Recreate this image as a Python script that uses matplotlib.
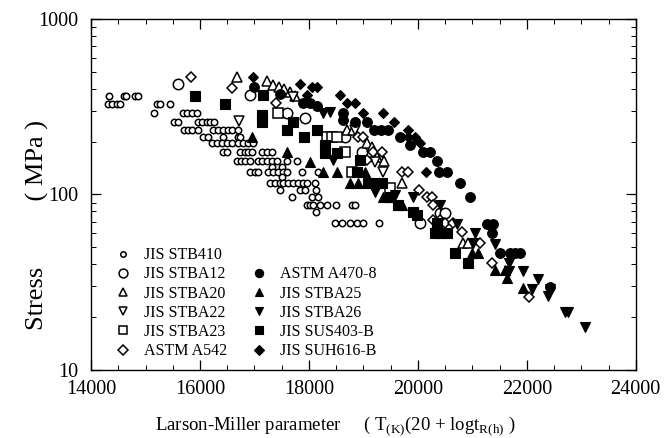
import matplotlib
matplotlib.use('Agg')
import matplotlib.pyplot as plt
from matplotlib.lines import Line2D
from matplotlib.ticker import MultipleLocator, FixedLocator, NullFormatter

plt.rcParams['font.family'] = ['Liberation Serif', 'DejaVu Serif']
plt.rcParams['mathtext.fontset'] = 'custom'
plt.rcParams['mathtext.rm'] = 'Liberation Serif'

# JIS STB410 - stress levels and the LMP values read on each level
stb410_stress = [365, 329, 291, 259, 233, 213, 196, 175, 155, 144, 134, 126, 116, 106, 97, 87, 79, 69]
stb410_lmp = [
    [14330, 14606, 14642, 14807, 14862],
    [14312, 14385, 14477, 14532, 15211, 15266, 15450],
    [15156, 15688, 15762, 15853, 15945],
    [15523, 15596, 15963, 16037, 16129, 16184, 16257],
    [15707, 15780, 15853, 15963, 16239, 16330, 16422, 16514, 16587, 16697],
    [16055, 16147, 16422, 16697, 16734],
    [16220, 16312, 16404, 16496, 16587, 16697, 16789, 16881, 16973],
    [16422, 16496, 16734, 16826, 16881, 16954, 17138, 17230, 17321],
    [16679, 16752, 16826, 16918, 17064, 17138, 17230, 17321, 17413, 17597, 17780],
    [17321, 17505],
    [16918, 17009, 17064, 17248, 17340, 17431, 17523, 17597, 17872, 18165],
    [17505],
    [17285, 17376, 17468, 17523, 17615, 17707, 17798, 17890, 17964, 18110],
    [17468, 17835, 17927, 18129],
    [17688, 18055, 18165],
    [17964, 18019, 18074, 18202, 18331, 18496, 18789, 18844],
    [18129],
    [18477, 18606, 18753, 18881, 18991, 19285],
]

stba12_x = [15596, 16918, 17597, 17927, 18661, 18973, 20037, 20404, 20496]
stba12_y = [427, 369, 291, 273, 213, 175, 69, 78.5, 78.5]

stba20_x = [16679, 17230, 17340, 17450, 17542, 17652, 17743, 18698, 18808, 19065, 19156, 19248, 19377, 19707, 20826, 20918]
stba20_y = [467, 443, 421, 410, 399, 384, 364, 233, 233, 196, 187, 164, 155, 116, 53, 53]

stba22_x = [16716, 17700, 18844, 19211, 19358]
stba22_y = [262, 360, 233, 153, 134]

stba23_x = [17431, 18331, 18422, 18514, 18661, 18789, 19487]
stba23_y = [291, 213, 213, 213, 175, 134, 109]

a542_x = [15835, 16587, 17395, 18900, 18991, 19175, 19340, 19065, 19707, 19817, 20019, 20166, 20257,
          20276, 20276, 20404, 20496, 20643, 20808, 21138, 21358, 22037]
a542_y = [467, 404, 332, 213, 213, 175, 175, 157, 134, 134, 106, 96.8, 96.8,
          87.1, 71.6, 71.6, 69, 69, 61, 53, 40.8, 26.1]

a470_x = [16991, 17468, 17890, 18019, 18147, 18624, 18624, 18844, 19065, 19193, 19322, 19450, 19670, 19854,
          20092, 20221, 20349, 20386, 20533, 20771, 20955, 21267, 21377, 21358, 21505, 21689, 21780, 21872, 22423]
a470_y = [410, 374, 332, 332, 319, 291, 266, 259, 259, 233, 233, 233, 213, 192,
          175, 175, 155, 134, 134, 116, 96.8, 68, 68, 60.4, 46.4, 46.4, 46.4, 46.4, 29.7]

stba25_x = [16954, 17597, 18019, 18257, 18514, 18753, 18899, 19028, 19358, 19487, 19707, 20992, 21102,
            21413, 21597, 21634, 21927]
stba25_y = [213, 175, 153, 134, 134, 116, 116, 134, 96.8, 96.8, 87, 46.4, 46.4,
            37.2, 37.2, 33.4, 29.3]

stba26_x = [18257, 18385, 18441, 19211, 19578, 19909, 20404, 20716, 21046, 21010, 21413, 21670, 21670, 21927,
            22202, 22092, 22423, 22386, 22698, 22753, 23065]
stba26_y = [291, 295, 157, 103, 99, 96.8, 87, 68, 60.4, 53, 52, 40.8, 36.7, 36.7,
            33, 29, 29, 26.4, 21.4, 21.4, 17.6]

sus403_x = [15908, 16459, 17156, 17138, 17138, 17707, 17597, 18147, 17909, 18294, 18294, 18514, 18936, 18881,
            19083, 19211, 19340, 19487, 19634, 19909, 19982, 20312, 20404, 20533, 20679, 20918, 20349]
sus403_y = [364, 328, 369, 284, 259, 259, 233, 233, 213, 192, 173, 173, 157, 134,
            116, 116, 116, 96.8, 87, 79.4, 76.4, 60.4, 60.4, 60.4, 46.4, 40.8, 69]

suh616_x = [16973, 17835, 18055, 18147, 17964, 18569, 18698, 18844, 18991, 19358, 19560, 19817, 19817, 19945,
            20037, 20147]
suh616_y = [467, 427, 410, 410, 369, 369, 332, 332, 291, 291, 259, 233, 213, 213, 196, 134]

fig = plt.figure(figsize=(6.65, 4.38), dpi=100)
ax = fig.add_axes([0.137, 0.155, 0.819, 0.802])

s410_x, s410_y = [], []
for s, xs in zip(stb410_stress, stb410_lmp):
    s410_x += xs
    s410_y += [s] * len(xs)

openkw = dict(ls='none', mfc='white', mec='black', mew=1.1)
fillkw = dict(ls='none', mfc='black', mec='black', mew=0.8)

series = [
    (s410_x, s410_y, 'o', 4.6, openkw, 'JIS STB410'),
    (stba12_x, stba12_y, 'o', 7.5, openkw, 'JIS STBA12'),
    (stba20_x, stba20_y, '^', 7, openkw, 'JIS STBA20'),
    (stba22_x, stba22_y, 'v', 7, openkw, 'JIS STBA22'),
    (stba23_x, stba23_y, 's', 7, openkw, 'JIS STBA23'),
    (a542_x, a542_y, 'D', 5.5, openkw, 'ASTM A542'),
    (a470_x, a470_y, 'o', 7, fillkw, 'ASTM A470-8'),
    (stba25_x, stba25_y, '^', 7, fillkw, 'JIS STBA25'),
    (stba26_x, stba26_y, 'v', 7, fillkw, 'JIS STBA26'),
    (sus403_x, sus403_y, 's', 6.5, fillkw, 'JIS SUS403-B'),
    (suh616_x, suh616_y, 'D', 5.5, fillkw, 'JIS SUH616-B'),
]

handles = []
for xs, ys, m, ms, kw, label in series:
    ax.plot(xs, ys, marker=m, ms=ms, **kw)
    handles.append(Line2D([], [], marker=m, ms=ms * 0.85, label=label, **kw))

blank = Line2D([], [], ls='none', label=' ')
leg_handles = handles[:6] + [blank] + handles[6:]
ax.legend(handles=leg_handles, ncol=2, loc='lower left', bbox_to_anchor=(0.015, -0.01),
          frameon=False, fontsize=11.5, handletextpad=0.7, columnspacing=1.4,
          labelspacing=0.2, handlelength=1.2)

ax.set_yscale('log')
ax.set_xlim(14000, 24000)
ax.set_ylim(10, 1000)
ax.xaxis.set_major_locator(MultipleLocator(2000))
ax.xaxis.set_minor_locator(MultipleLocator(500))
ax.yaxis.set_major_locator(FixedLocator([10, 100, 1000]))
ax.yaxis.set_major_formatter(plt.FuncFormatter(lambda v, p: '%d' % v))
ax.yaxis.set_minor_locator(FixedLocator([k * 10 ** e for e in (1, 2) for k in range(2, 10)]))
ax.yaxis.set_minor_formatter(NullFormatter())
ax.tick_params(which='both', direction='in', top=True, right=True, labelsize=14.5)
ax.tick_params(axis='x', which='major', pad=7)
ax.tick_params(axis='y', which='major', pad=9)
ax.tick_params(which='major', length=7, width=0.9)
ax.tick_params(which='minor', length=3.5, width=0.7)
for sp in ax.spines.values():
    sp.set_linewidth(1.0)

ax.set_ylabel('Stress          ( MPa )', fontsize=19)
ax.yaxis.set_label_coords(-0.078, 0.413)
ax.set_xlabel(r'Larson-Miller parameter     ( T$_{\rm (K)}$(20 + logt$_{\rm R(h)}$ )', fontsize=13.5)
ax.xaxis.set_label_coords(0.448, -0.128)

fig.savefig('out.png', dpi=100)
